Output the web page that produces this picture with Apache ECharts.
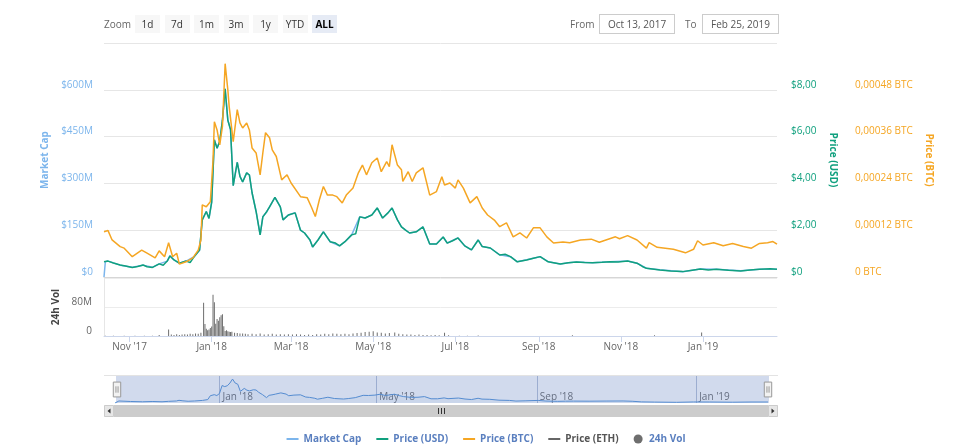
<!DOCTYPE html>
<html>
<head>
<meta charset="utf-8">
<script src="https://cdn.jsdelivr.net/npm/echarts@6/dist/echarts.min.js"></script>
<style>
html,body{margin:0;padding:0;background:#fff;}
#chart{position:absolute;left:0;top:0;width:972px;height:448px;}
.ui{position:absolute;font-family:'Open Sans',sans-serif;font-size:10px;color:#666;line-height:18px;height:18px;z-index:5;}
.btn{position:absolute;top:15px;width:25px;height:18px;line-height:18px;text-align:center;background:#f7f7f7;color:#333;font-family:'Open Sans',sans-serif;font-size:10px;z-index:5;}
.btn.sel{background:#e6ebf5;color:#000;font-weight:bold;}
.box{position:absolute;top:14px;height:18px;line-height:18px;border:1px solid #cccccc;text-align:center;font-family:'Open Sans',sans-serif;font-size:10px;color:#555;z-index:5;}
</style>
</head>
<body>
<div id="chart"></div>
<div class="ui" style="left:104px;top:15px;">Zoom</div>
<div id="btns"></div>
<div class="ui" style="left:570px;top:15px;">From</div>
<div class="box" id="fromBox" style="left:599px;width:74px;"></div>
<div class="ui" style="left:685px;top:15px;">To</div>
<div class="box" id="toBox" style="left:702px;width:75px;"></div>
<script>
// ---------- data ----------
const rangeButtons = ['1d','7d','1m','3m','1y','YTD','ALL'];
const selectedButton = 'ALL';
const dateFrom = 'Oct 13, 2017';
const dateTo = 'Feb 25, 2019';
const axisStart = '2017-10-13';
const axisEnd = '2019-02-25';

const xTickDates = ['2017-11-01','2018-01-01','2018-03-01','2018-05-01','2018-07-01','2018-09-01','2018-11-01','2019-01-01'];
const xTickLabels = ["Nov '17","Jan '18","Mar '18","May '18","Jul '18","Sep '18","Nov '18","Jan '19"];
const navTickDates = ['2018-01-01','2018-05-01','2018-09-01','2019-01-01'];
const navTickLabels = ["Jan '18","May '18","Sep '18","Jan '19"];

// Market cap, $ millions
const marketCapM = [
['2017-10-13',0],['2017-10-14',49],['2017-10-16',51],['2017-10-25',38],['2017-11-03',31],['2017-11-11',38],['2017-11-18',31],
['2017-11-23',42],['2017-11-29',51],['2017-12-01',68],['2017-12-04',55],['2017-12-08',44],['2017-12-13',51],['2017-12-19',65],
['2017-12-23',86],['2017-12-25',183],['2017-12-28',210],['2017-12-30',188],['2018-01-01',240],['2018-01-03',440],['2018-01-05',413],
['2018-01-07',435],['2018-01-09',503],['2018-01-11',603],['2018-01-13',503],['2018-01-15',473],['2018-01-17',293],['2018-01-20',368],
['2018-01-22',323],['2018-01-24',305],['2018-01-27',334],['2018-01-29',327],['2018-01-31',270],['2018-02-03',210],['2018-02-06',135],
['2018-02-08',193],['2018-02-11',210],['2018-02-13',225],['2018-02-17',255],['2018-02-21',225],['2018-02-23',183],['2018-02-27',199],
['2018-03-04',206],['2018-03-08',150],['2018-03-11',141],['2018-03-15',119],['2018-03-17',96],['2018-03-21',119],['2018-03-25',145],
['2018-03-30',113],['2018-04-06',100],['2018-04-10',113],['2018-04-15',135],['2018-04-21',193],['2018-04-25',189],['2018-04-30',199],
['2018-05-04',221],['2018-05-08',189],['2018-05-12',206],['2018-05-15',221],['2018-05-19',183],['2018-05-22',161],['2018-05-28',141],
['2018-06-02',145],['2018-06-07',161],['2018-06-12',106],['2018-06-17',106],['2018-06-22',128],['2018-06-25',109],['2018-07-03',125],
['2018-07-08',100],['2018-07-13',87],['2018-07-18',119],['2018-07-21',98],['2018-07-27',93],['2018-08-03',71],['2018-08-11',65],
['2018-08-16',49],['2018-08-23',55],['2018-09-02',65],['2018-09-08',49],['2018-09-17',42],['2018-09-23',46],['2018-09-29',48],
['2018-10-11',46],['2018-10-24',49],['2018-11-06',51],['2018-11-13',44],['2018-11-20',28],['2018-11-30',23],['2018-12-17',17],
['2018-12-30',26],['2019-01-11',25],['2019-01-29',20],['2019-02-12',25],['2019-02-25',25]
];

// Price in USD
const priceUsd = [
['2017-10-13',0.65],['2017-10-16',0.68],['2017-10-20',0.60],['2017-10-25',0.51],['2017-10-29',0.47],['2017-11-03',0.41],['2017-11-07',0.45],
['2017-11-11',0.51],['2017-11-14',0.44],['2017-11-18',0.41],['2017-11-23',0.56],['2017-11-26',0.50],['2017-11-29',0.68],['2017-12-01',0.90],
['2017-12-04',0.73],['2017-12-08',0.59],['2017-12-13',0.68],['2017-12-16',0.62],
['2017-12-19',0.87],['2017-12-23',1.15],['2017-12-25',2.44],['2017-12-28',2.80],['2017-12-30',2.50],['2018-01-01',3.20],
['2018-01-03',5.86],['2018-01-05',5.50],['2018-01-07',5.80],['2018-01-09',6.70],['2018-01-11',8.04],['2018-01-13',6.70],
['2018-01-15',6.30],['2018-01-17',3.90],['2018-01-20',4.90],['2018-01-22',4.30],['2018-01-24',4.06],['2018-01-27',4.45],
['2018-01-29',4.36],['2018-01-31',3.60],['2018-02-03',2.80],['2018-02-06',1.80],['2018-02-08',2.57],['2018-02-11',2.80],
['2018-02-13',3.00],['2018-02-17',3.40],['2018-02-21',3.00],['2018-02-23',2.44],['2018-02-27',2.65],['2018-03-04',2.74],
['2018-03-08',2.00],['2018-03-11',1.88],['2018-03-15',1.58],['2018-03-17',1.28],['2018-03-21',1.58],['2018-03-25',1.93],
['2018-03-30',1.51],['2018-04-03',1.45],['2018-04-06',1.33],['2018-04-10',1.51],['2018-04-15',1.80],['2018-04-18',1.85],['2018-04-21',2.57],['2018-04-25',2.52],
['2018-04-30',2.65],['2018-05-04',2.95],['2018-05-08',2.52],['2018-05-12',2.74],['2018-05-15',2.95],['2018-05-19',2.44],
['2018-05-22',2.14],['2018-05-25',2.00],['2018-05-28',1.88],['2018-06-02',1.93],['2018-06-07',2.14],['2018-06-12',1.41],['2018-06-17',1.41],
['2018-06-22',1.71],['2018-06-25',1.45],['2018-06-29',1.55],['2018-07-03',1.67],['2018-07-08',1.33],['2018-07-13',1.16],['2018-07-18',1.58],
['2018-07-21',1.30],['2018-07-27',1.24],['2018-08-03',0.94],['2018-08-07',0.97],['2018-08-11',0.87],['2018-08-16',0.65],['2018-08-23',0.73],
['2018-08-28',0.80],['2018-09-02',0.87],['2018-09-08',0.65],['2018-09-17',0.56],['2018-09-23',0.61],['2018-09-29',0.64],['2018-10-05',0.62],['2018-10-11',0.61],
['2018-10-18',0.63],['2018-10-24',0.65],['2018-10-30',0.64],['2018-11-06',0.68],['2018-11-13',0.59],['2018-11-17',0.45],['2018-11-20',0.37],['2018-11-30',0.30],
['2018-12-08',0.26],['2018-12-17',0.23],['2018-12-24',0.29],
['2018-12-30',0.34],['2019-01-05',0.30],['2019-01-11',0.33],['2019-01-20',0.29],['2019-01-29',0.26],['2019-02-05',0.30],['2019-02-12',0.33],['2019-02-20',0.35],['2019-02-25',0.33]
];

// Price in BTC
const priceBtc = [
['2017-10-13',0.000116],['2017-10-16',0.000119],['2017-10-19',0.000095],['2017-10-25',0.000078],['2017-10-28',0.000074],
['2017-11-03',0.000052],['2017-11-10',0.000069],['2017-11-14',0.000061],['2017-11-20',0.000049],['2017-11-23',0.000067],
['2017-11-27',0.000052],['2017-11-30',0.000088],['2017-12-03',0.000052],['2017-12-06',0.000061],['2017-12-08',0.000033],
['2017-12-13',0.000039],['2017-12-18',0.000049],['2017-12-22',0.000069],['2017-12-24',0.000095],['2017-12-25',0.000185],
['2017-12-28',0.000180],['2017-12-31',0.000193],['2018-01-02',0.000300],['2018-01-03',0.000398],['2018-01-05',0.000377],
['2018-01-07',0.000339],['2018-01-09',0.000386],['2018-01-11',0.000547],['2018-01-13',0.000480],['2018-01-14',0.000437],
['2018-01-17',0.000347],['2018-01-20',0.000429],['2018-01-22',0.000395],['2018-01-24',0.000382],['2018-01-27',0.000395],
['2018-01-29',0.000377],['2018-01-31',0.000331],['2018-02-03',0.000318],['2018-02-06',0.000262],['2018-02-08',0.000318],
['2018-02-10',0.000370],['2018-02-13',0.000357],['2018-02-15',0.000326],['2018-02-18',0.000309],['2018-02-22',0.000249],
['2018-02-26',0.000262],['2018-03-01',0.000241],['2018-03-08',0.000206],['2018-03-13',0.000203],['2018-03-16',0.000180],
['2018-03-19',0.000155],['2018-03-22',0.000198],['2018-03-25',0.000232],['2018-03-28',0.000210],['2018-04-01',0.000210],
['2018-04-04',0.000206],['2018-04-08',0.000190],['2018-04-11',0.000210],['2018-04-16',0.000228],['2018-04-20',0.000267],
['2018-04-23',0.000287],['2018-04-26',0.000262],['2018-04-30',0.000293],['2018-05-04',0.000305],['2018-05-07',0.000270],
['2018-05-11',0.000296],['2018-05-13',0.000283],['2018-05-15',0.000339],['2018-05-19',0.000287],['2018-05-22',0.000275],
['2018-05-23',0.000245],['2018-05-27',0.000270],['2018-05-30',0.000245],['2018-06-02',0.000267],['2018-06-07',0.000280],
['2018-06-12',0.000210],['2018-06-17',0.000219],['2018-06-21',0.000257],['2018-06-23',0.000236],['2018-06-27',0.000241],
['2018-07-01',0.000228],['2018-07-03',0.000249],['2018-07-07',0.000228],['2018-07-12',0.000190],['2018-07-17',0.000206],
['2018-07-21',0.000177],['2018-07-25',0.000159],['2018-07-30',0.000146],['2018-08-03',0.000129],['2018-08-08',0.000139],
['2018-08-13',0.000103],['2018-08-18',0.000113],['2018-08-23',0.000100],['2018-08-28',0.000126],['2018-09-02',0.000126],
['2018-09-07',0.000103],['2018-09-12',0.000087],['2018-09-19',0.000090],['2018-09-24',0.000088],['2018-10-02',0.000095],
['2018-10-10',0.000097],['2018-10-16',0.000089],['2018-10-28',0.000103],['2018-10-31',0.000098],['2018-11-06',0.000106],
['2018-11-13',0.000095],['2018-11-20',0.000074],['2018-11-22',0.000088],['2018-11-28',0.000076],['2018-12-10',0.000071],
['2018-12-19',0.000062],['2018-12-25',0.000071],['2018-12-28',0.000093],['2019-01-01',0.000082],['2019-01-09',0.000088],
['2019-01-16',0.000080],['2019-01-23',0.000086],['2019-01-31',0.000078],['2019-02-06',0.000074],['2019-02-12',0.000086],
['2019-02-18',0.000088],['2019-02-22',0.000091],['2019-02-25',0.000084]
];

// Price in ETH (series shown only in the legend)
const priceEth = [];

// 24h volume, $ millions
const volumeM = [
['2017-10-14',0.5],['2017-10-20',0.4],['2017-10-28',0.5],['2017-11-05',0.4],['2017-11-12',0.5],['2017-11-18',0.6],['2017-11-23',3],
['2017-11-30',18],['2017-12-02',4],['2017-12-04',3],['2017-12-06',5],['2017-12-08',3],['2017-12-10',4],['2017-12-12',5],['2017-12-14',4],
['2017-12-16',6],['2017-12-18',5],['2017-12-20',7],['2017-12-22',6],['2017-12-24',9],['2017-12-26',92],['2017-12-27',33],['2017-12-28',20],
['2017-12-29',16],['2017-12-30',18],['2017-12-31',22],['2018-01-01',26],['2018-01-02',114],['2018-01-03',93],['2018-01-04',34],
['2018-01-05',47],['2018-01-06',42],['2018-01-07',52],['2018-01-08',57],['2018-01-09',60],['2018-01-10',27],['2018-01-11',14],
['2018-01-12',16],['2018-01-13',13],['2018-01-14',12],['2018-01-15',11],['2018-01-16',12],['2018-01-18',9],['2018-01-20',8],
['2018-01-22',7],['2018-01-24',7],['2018-01-26',6],['2018-01-28',5],['2018-01-31',6],['2018-02-03',5],['2018-02-06',7],['2018-02-09',4],
['2018-02-12',5],['2018-02-15',6],['2018-02-18',4],['2018-02-21',5],['2018-02-24',4],['2018-02-27',5],['2018-03-02',4],['2018-03-05',5],
['2018-03-08',4],['2018-03-11',3],['2018-03-14',4],['2018-03-17',3],['2018-03-20',5],['2018-03-23',4],['2018-03-26',6],['2018-03-29',5],
['2018-04-01',7],['2018-04-04',6],['2018-04-07',5],['2018-04-10',6],['2018-04-13',5],['2018-04-16',7],['2018-04-19',8],['2018-04-22',9],
['2018-04-25',11],['2018-04-28',12],['2018-05-01',13],['2018-05-04',10],['2018-05-07',9],['2018-05-10',7],['2018-05-13',8],['2018-05-17',10],
['2018-05-20',6],['2018-05-23',5],['2018-05-26',4],['2018-05-29',4],['2018-06-01',3],['2018-06-04',4],['2018-06-07',3],['2018-06-10',3],
['2018-06-13',2],['2018-06-16',3],['2018-06-19',2],['2018-06-23',9],['2018-06-26',2],['2018-07-04',1],['2018-07-10',1],['2018-07-18',1.5],
['2018-09-26',2],['2018-11-26',2],['2018-12-31',10]
];

// ---------- helpers ----------
function toTs(s){ const p = s.split('-').map(Number); return new Date(p[0], p[1]-1, p[2]).getTime(); }
function withTs(arr){ return arr.map(function(d){ return [toTs(d[0]), d[1]]; }); }
const xTickTs = xTickDates.map(toTs);
const navTickTs = navTickDates.map(toTs);
function labelFor(ts, tsList, labels){
  for (let i = 0; i < tsList.length; i++) { if (Math.abs(tsList[i]-ts) < 43200000) return labels[i]; }
  return '';
}

// ---------- toolbar ----------
const btnHost = document.getElementById('btns');
rangeButtons.forEach(function(b, i){
  const d = document.createElement('div');
  d.className = 'btn' + (b === selectedButton ? ' sel' : '');
  d.style.left = (135 + i * 29.5) + 'px';
  d.textContent = b;
  btnHost.appendChild(d);
});
document.getElementById('fromBox').textContent = dateFrom;
document.getElementById('toBox').textContent = dateTo;

// ---------- chart ----------
const FONT = "'Open Sans', sans-serif";
const C_MCAP = '#7cb5ec', C_USD = '#10a07e', C_BTC = '#f5a623', C_ETH = '#666666', C_VOL = '#6e6e6e';
const T0 = toTs(axisStart), T1 = toTs(axisEnd);
const LINE_ICON = 'path://M0,0 L12,0 L12,2 L0,2 Z';

const chart = echarts.init(document.getElementById('chart'), null, {renderer: 'canvas'});
chart.setOption({
  animation: false,
  backgroundColor: '#ffffff',
  textStyle: {fontFamily: FONT},
  grid: [
    {left: 104, right: 195, top: 43, height: 234},
    {left: 104, right: 195, top: 278, height: 58},
    {left: 115, right: 204, top: 376, height: 27}
  ],
  xAxis: [
    {type: 'value', gridIndex: 0, min: T0, max: T1, scale: true,
     axisLine: {show: true, onZero: false, lineStyle: {color: '#d6d6d6'}}, axisTick: {show: false},
     axisLabel: {show: false}, splitLine: {show: false}},
    {type: 'value', gridIndex: 1, min: T0, max: T1, scale: true,
     axisLine: {show: true, onZero: false, lineStyle: {color: '#ccd6eb'}},
     axisTick: {show: true, customValues: xTickTs, length: 6, lineStyle: {color: '#ccd6eb'}},
     axisLabel: {customValues: xTickTs, color: '#666', fontSize: 10, margin: 6, fontFamily: FONT,
       showMinLabel: true, showMaxLabel: true,
       formatter: function(v){ return labelFor(v, xTickTs, xTickLabels); }},
     splitLine: {show: false}},
    {type: 'value', gridIndex: 2, min: T0, max: T1, scale: true,
     axisLine: {show: false, onZero: false},
     axisTick: {show: true, inside: true, length: 27, customValues: navTickTs, lineStyle: {color: '#b4bfd6'}},
     axisLabel: {inside: true, customValues: navTickTs, align: 'left', padding: [0,0,0,3], margin: 1,
       color: '#666', fontSize: 10, fontFamily: FONT,
       formatter: function(v){ return labelFor(v, navTickTs, navTickLabels); }},
     splitLine: {show: false}}
  ],
  yAxis: [
    {type: 'value', gridIndex: 0, position: 'left', min: 0, max: 750, interval: 150,
     name: 'Market Cap', nameLocation: 'middle', nameGap: 47,
     nameTextStyle: {color: C_MCAP, fontWeight: 'bold', fontSize: 10, fontFamily: FONT},
     axisLine: {show: false}, axisTick: {show: false},
     axisLabel: {color: C_MCAP, fontSize: 10, margin: 11, verticalAlign: 'bottom', fontFamily: FONT,
       formatter: function(v){ return v >= 750 ? '' : (v === 0 ? '$0' : '$' + v + 'M'); }},
     splitLine: {show: true, lineStyle: {color: '#e6e6e6', width: 1}}},
    {type: 'value', gridIndex: 0, position: 'right', min: 0, max: 10, interval: 2,
     name: 'Price (USD)', nameLocation: 'middle', nameRotate: -90, nameGap: 51,
     nameTextStyle: {color: C_USD, fontWeight: 'bold', fontSize: 10, fontFamily: FONT},
     axisLine: {show: false}, axisTick: {show: false},
     axisLabel: {color: C_USD, fontSize: 10, margin: 14, verticalAlign: 'bottom', fontFamily: FONT,
       formatter: function(v){ return v >= 10 ? '' : (v === 0 ? '$0' : '$' + v.toFixed(2).replace('.', ',')); }},
     splitLine: {show: false}},
    {type: 'value', gridIndex: 0, position: 'right', offset: 70, min: 0, max: 0.0006, interval: 0.00012,
     name: 'Price (BTC)', nameLocation: 'middle', nameRotate: -90, nameGap: 66,
     nameTextStyle: {color: C_BTC, fontWeight: 'bold', fontSize: 10, fontFamily: FONT},
     axisLine: {show: false}, axisTick: {show: false},
     axisLabel: {color: C_BTC, fontSize: 10, margin: 8, verticalAlign: 'bottom', fontFamily: FONT,
       formatter: function(v){ return v > 0.00055 ? '' : (v < 1e-9 ? '0 BTC' : v.toFixed(5).replace('.', ',') + ' BTC'); }},
     splitLine: {show: false}},
    {type: 'value', gridIndex: 1, position: 'left', min: 0, max: 160, interval: 80,
     name: '24h Vol', nameLocation: 'middle', nameGap: 37,
     nameTextStyle: {color: '#444', fontWeight: 'bold', fontSize: 10, fontFamily: FONT},
     axisLine: {show: true, lineStyle: {color: '#e6e6e6'}}, axisTick: {show: false},
     axisLabel: {color: '#666', fontSize: 10, margin: 12, verticalAlign: 'bottom', fontFamily: FONT,
       formatter: function(v){ return v >= 160 ? '' : (v === 0 ? '0' : v + 'M'); }},
     splitLine: {show: true, lineStyle: {color: '#ececec'}}},
    {type: 'value', gridIndex: 2, min: 0, max: 680, show: false}
  ],
  dataZoom: [{
    type: 'slider', xAxisIndex: [0, 1], filterMode: 'none', start: 0, end: 100,
    left: 115, right: 204, top: 376, height: 27,
    backgroundColor: 'rgba(0,0,0,0)', borderColor: 'rgba(0,0,0,0)',
    fillerColor: 'rgba(102,133,194,0.3)',
    showDataShadow: false, showDetail: false, brushSelect: false, moveHandleSize: 0,
    handleIcon: 'path://M0,0 L7,0 L7,14 L0,14 Z M2.5,4 L2.5,10 M4.5,4 L4.5,10',
    handleSize: '55%',
    handleStyle: {color: '#f2f2f2', borderColor: '#999999', borderWidth: 1}
  }],
  legend: {
    top: 429, left: 'center', itemGap: 15, itemWidth: 12, itemHeight: 9,
    textStyle: {fontFamily: FONT, fontSize: 10, fontWeight: 'bold', color: '#5a7fbf'},
    data: [
      {name: 'Market Cap', icon: LINE_ICON},
      {name: 'Price (USD)', icon: LINE_ICON},
      {name: 'Price (BTC)', icon: LINE_ICON},
      {name: 'Price (ETH)', icon: LINE_ICON, textStyle: {color: '#555'}},
      {name: '24h Vol', icon: 'circle'}
    ]
  },
  graphic: [
    {type: 'line', shape: {x1: 104, y1: 375.5, x2: 778, y2: 375.5}, style: {stroke: '#e3e3e3', lineWidth: 1}, silent: true},
    {type: 'rect', shape: {x: 104, y: 405, width: 674, height: 12}, style: {fill: '#f2f2f2'}, silent: true},
    {type: 'rect', shape: {x: 114, y: 405, width: 654, height: 12}, style: {fill: '#cccccc'}, silent: true},
    {type: 'rect', shape: {x: 104.5, y: 405.5, width: 9, height: 11}, style: {fill: '#e6e6e6', stroke: '#cccccc'}, silent: true},
    {type: 'rect', shape: {x: 768.5, y: 405.5, width: 9, height: 11}, style: {fill: '#e6e6e6', stroke: '#cccccc'}, silent: true},
    {type: 'polygon', shape: {points: [[110.5, 408.5], [110.5, 413.5], [107.5, 411]]}, style: {fill: '#333'}, silent: true},
    {type: 'polygon', shape: {points: [[771.5, 408.5], [771.5, 413.5], [774.5, 411]]}, style: {fill: '#333'}, silent: true},
    {type: 'line', shape: {x1: 438.5, y1: 408, x2: 438.5, y2: 414}, style: {stroke: '#333', lineWidth: 1}, silent: true},
    {type: 'line', shape: {x1: 441.5, y1: 408, x2: 441.5, y2: 414}, style: {stroke: '#333', lineWidth: 1}, silent: true},
    {type: 'line', shape: {x1: 444.5, y1: 408, x2: 444.5, y2: 414}, style: {stroke: '#333', lineWidth: 1}, silent: true}
  ],
  series: [
    {name: 'Market Cap', type: 'line', xAxisIndex: 0, yAxisIndex: 0, data: withTs(marketCapM),
     symbol: 'none', showSymbol: false, color: C_MCAP, lineStyle: {width: 1.5, color: C_MCAP}},
    {name: 'Price (USD)', type: 'line', xAxisIndex: 0, yAxisIndex: 1, data: withTs(priceUsd),
     symbol: 'none', showSymbol: false, color: C_USD, lineStyle: {width: 1.5, color: C_USD}},
    {name: 'Price (BTC)', type: 'line', xAxisIndex: 0, yAxisIndex: 2, data: withTs(priceBtc),
     symbol: 'none', showSymbol: false, color: C_BTC, lineStyle: {width: 1.5, color: C_BTC}},
    {name: 'Price (ETH)', type: 'line', xAxisIndex: 0, yAxisIndex: 1, data: priceEth,
     symbol: 'none', showSymbol: false, color: C_ETH, lineStyle: {width: 1.5, color: C_ETH}},
    {name: '24h Vol', type: 'bar', xAxisIndex: 1, yAxisIndex: 3, data: withTs(volumeM),
     barWidth: 1, color: C_VOL, itemStyle: {color: C_VOL}},
    {name: 'navigator', type: 'line', xAxisIndex: 2, yAxisIndex: 4, data: withTs(marketCapM),
     symbol: 'none', showSymbol: false, color: '#4d8fd6', lineStyle: {width: 1, color: '#4d8fd6'},
     areaStyle: {color: 'rgba(77,143,214,0.08)'}, z: 1}
  ]
});
</script>
</body>
</html>
